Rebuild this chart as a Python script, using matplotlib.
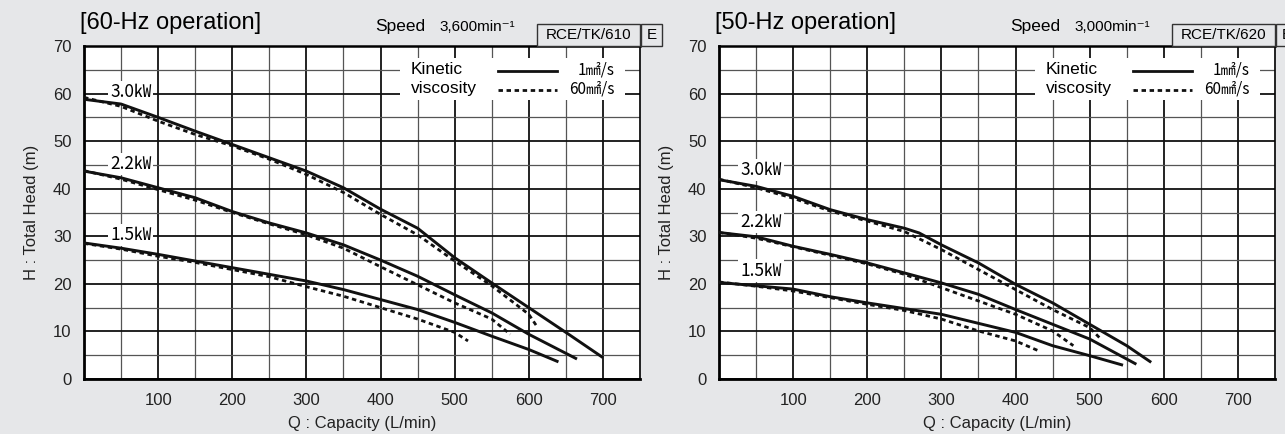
import matplotlib
matplotlib.use("Agg")
import matplotlib.pyplot as plt
from matplotlib.patches import Rectangle
from matplotlib.ticker import MultipleLocator

plt.rcParams['font.family'] = ['Liberation Sans', 'DejaVu Sans']
CJK = ['Noto Sans CJK JP', 'Liberation Sans', 'DejaVu Sans']

# 60-Hz curves (Q in L/min, H in m)
q60_30 = [0, 50, 100, 150, 200, 250, 300, 350, 400, 450, 500, 550, 600, 650, 700]
h60_30 = [58.8, 57.8, 55.0, 52.1, 49.3, 46.5, 43.7, 40.2, 35.7, 31.7, 25.5, 20.2, 15.0, 9.8, 4.5]
q60_30v = [0, 50, 100, 150, 200, 250, 300, 350, 400, 450, 500, 550, 600, 612]
h60_30v = [59.2, 57.3, 54.2, 51.4, 49.0, 46.2, 43.0, 39.2, 34.6, 30.3, 24.8, 19.6, 13.6, 10.8]
q60_22 = [0, 50, 100, 150, 200, 250, 300, 350, 400, 450, 500, 550, 600, 665]
h60_22 = [43.7, 42.3, 40.2, 38.1, 35.2, 32.8, 30.7, 28.2, 25.0, 21.6, 17.7, 13.9, 9.4, 4.2]
q60_22v = [0, 50, 100, 150, 200, 250, 300, 350, 400, 450, 500, 550, 575]
h60_22v = [43.8, 42.0, 39.8, 37.6, 35.0, 32.6, 30.3, 27.5, 23.6, 19.8, 16.0, 12.6, 9.4]
q60_15 = [0, 50, 100, 150, 200, 250, 300, 350, 400, 450, 500, 550, 600, 640]
h60_15 = [28.6, 27.5, 26.2, 24.8, 23.4, 22.0, 20.6, 18.8, 16.7, 14.6, 11.9, 9.0, 6.2, 3.6]
q60_15v = [0, 50, 100, 150, 200, 250, 300, 350, 400, 450, 500, 518]
h60_15v = [28.5, 27.3, 25.8, 24.5, 23.0, 21.5, 19.4, 17.4, 15.0, 12.6, 9.8, 8.0]

# 50-Hz curves
q50_30 = [0, 50, 100, 150, 200, 250, 270, 300, 350, 400, 450, 500, 550, 583]
h50_30 = [41.9, 40.5, 38.4, 35.6, 33.5, 31.7, 30.7, 28.2, 24.4, 19.9, 16.0, 11.5, 7.0, 3.5]
q50_30v = [0, 50, 100, 150, 200, 250, 300, 350, 400, 450, 500, 515]
h50_30v = [42.0, 40.2, 38.0, 35.3, 33.2, 31.0, 27.2, 23.0, 18.8, 14.6, 10.8, 8.4]
q50_22 = [0, 50, 100, 150, 200, 250, 300, 350, 400, 450, 500, 563]
h50_22 = [30.8, 29.9, 27.9, 26.2, 24.4, 22.3, 20.2, 17.8, 14.6, 11.5, 8.4, 3.1]
q50_22v = [0, 50, 100, 150, 200, 250, 300, 350, 400, 450, 478]
h50_22v = [30.8, 29.6, 27.8, 26.0, 24.2, 22.0, 19.2, 16.4, 13.6, 10.1, 7.0]
q50_15 = [0, 50, 100, 150, 200, 250, 300, 350, 400, 450, 500, 545]
h50_15 = [20.3, 19.6, 18.9, 17.3, 16.0, 14.8, 13.6, 11.7, 9.8, 7.0, 4.9, 2.9]
q50_15v = [0, 50, 100, 150, 200, 250, 300, 350, 400, 430]
h50_15v = [20.4, 19.5, 18.5, 17.1, 15.7, 14.4, 12.6, 10.1, 8.0, 6.0]

motors = ["3.0㎾", "2.2㎾", "1.5㎾"]
label_pos60 = [(63, 60.3), (63, 45.2), (63, 30.3)]
label_pos50 = [(57, 44.0), (57, 33.0), (57, 22.8)]

panels = [
    dict(title="[60-Hz operation]", speed="3,600min⁻¹", code="RCE/TK/610",
         solid=[(q60_30, h60_30), (q60_22, h60_22), (q60_15, h60_15)],
         dashed=[(q60_30v, h60_30v), (q60_22v, h60_22v), (q60_15v, h60_15v)],
         labels=label_pos60, x0=84),
    dict(title="[50-Hz operation]", speed="3,000min⁻¹", code="RCE/TK/620",
         solid=[(q50_30, h50_30), (q50_22, h50_22), (q50_15, h50_15)],
         dashed=[(q50_30v, h50_30v), (q50_22v, h50_22v), (q50_15v, h50_15v)],
         labels=label_pos50, x0=719),
]

W, H = 1285, 434
bg = '#e6e7e9'
fig = plt.figure(figsize=(W / 100, H / 100), dpi=100, facecolor=bg)

for p in panels:
    x0 = p['x0']
    ax = fig.add_axes([x0 / W, 55 / H, 556 / W, 333 / H])
    ax.set_facecolor('white')
    ax.set_xlim(0, 750)
    ax.set_ylim(0, 70)
    ax.xaxis.set_major_locator(MultipleLocator(100))
    ax.xaxis.set_minor_locator(MultipleLocator(50))
    ax.yaxis.set_major_locator(MultipleLocator(10))
    ax.yaxis.set_minor_locator(MultipleLocator(5))
    ax.set_xticks(range(0, 701, 100))
    ax.set_xticklabels([''] + [str(v) for v in range(100, 701, 100)])
    ax.tick_params(which='both', length=0, labelsize=12, colors='#222222', pad=9)
    ax.tick_params(axis='x', pad=10)
    ax.grid(which='major', color='#111111', lw=1.3)
    ax.grid(which='minor', color='#555555', lw=0.9)
    ax.set_axisbelow(True)
    for s in ax.spines.values():
        s.set_linewidth(1.2)
    ax.spines['left'].set_linewidth(2)
    ax.spines['bottom'].set_linewidth(2)
    ax.spines['top'].set_linewidth(1.8)

    for q, h in p['solid']:
        ax.plot(q, h, color='#111111', lw=2.1, solid_capstyle='butt', zorder=4)
    for q, h in p['dashed']:
        ax.plot(q, h, color='#111111', lw=2.0, linestyle=(0, (1.6, 1.3)), zorder=4)

    for name, (lx, ly) in zip(motors, p['labels']):
        ax.text(lx, ly, name, family=CJK, fontsize=12.5, ha='center', va='center',
                zorder=3, bbox=dict(facecolor='white', edgecolor='none', pad=1.5))

    ax.set_xlabel("Q : Capacity (L/min)", fontsize=12, color='#222222', labelpad=6)
    ax.set_ylabel("H : Total Head (m)", fontsize=12, color='#222222', labelpad=10)

    # legend
    ax.add_patch(Rectangle((0.568, 0.838), 0.405, 0.126, transform=ax.transAxes,
                           facecolor='white', edgecolor='none', zorder=3))
    ax.text(0.588, 0.928, "Kinetic", transform=ax.transAxes, fontsize=12.5,
            va='center', ha='left', zorder=5)
    ax.text(0.588, 0.871, "viscosity", transform=ax.transAxes, fontsize=12.5,
            va='center', ha='left', zorder=5)
    ax.plot([0.745, 0.851], [0.924, 0.924], transform=ax.transAxes, color='#111111',
            lw=2.0, zorder=5)
    ax.plot([0.745, 0.851], [0.867, 0.867], transform=ax.transAxes, color='#111111',
            lw=2.0, linestyle=(0, (1.6, 1.3)), zorder=5)
    ax.text(0.955, 0.928, "1㎟/s", transform=ax.transAxes, family=CJK, fontsize=11,
            va='center', ha='right', zorder=5)
    ax.text(0.955, 0.871, "60㎟/s", transform=ax.transAxes, family=CJK, fontsize=11,
            va='center', ha='right', zorder=5)

    # header
    fig.text((x0 - 4) / W, 1 - 23 / H, p['title'], fontsize=17, va='center', ha='left')
    fig.text((x0 + 291) / W, 1 - 31 / H, "Speed", fontsize=12.5, va='baseline', ha='left')
    fig.text((x0 + 355) / W, 1 - 31 / H, p['speed'], fontsize=11, va='baseline', ha='left',
             family=['Liberation Sans', 'DejaVu Sans'])
    fig.patches.append(Rectangle(((x0 + 453) / W, 1 - 46 / H), 103 / W, 22 / H,
                                 transform=fig.transFigure, facecolor=bg,
                                 edgecolor='#333333', lw=1.0))
    fig.patches.append(Rectangle(((x0 + 557) / W, 1 - 46 / H), 21 / W, 22 / H,
                                 transform=fig.transFigure, facecolor=bg,
                                 edgecolor='#333333', lw=1.0))
    fig.text((x0 + 504.5) / W, 1 - 35 / H, p['code'], fontsize=11, va='center', ha='center')
    fig.text((x0 + 567.5) / W, 1 - 35 / H, "E", fontsize=11, va='center', ha='center')

fig.savefig("out.png", dpi=100, facecolor=bg)
